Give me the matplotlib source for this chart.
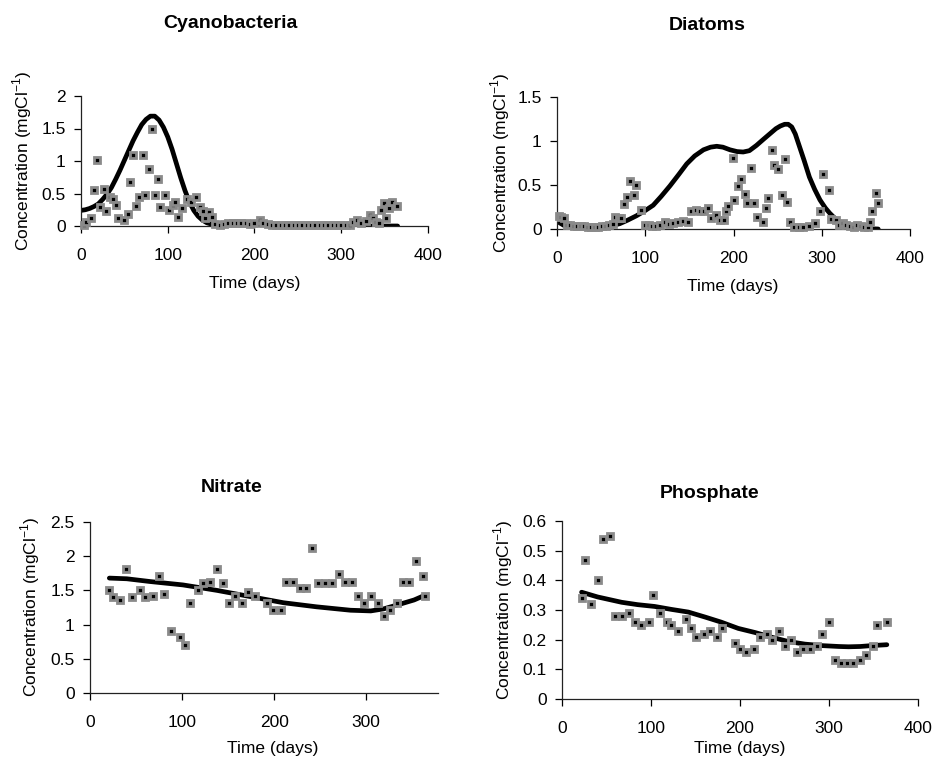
import matplotlib
matplotlib.use("Agg")
import matplotlib.pyplot as plt

plt.rcParams['font.family'] = ['Liberation Sans', 'DejaVu Sans']

# ---- data ----
cyano_days = [3, 6, 12, 15, 18, 22, 26, 29, 34, 37, 40, 43, 49, 54, 57, 60, 63, 67, 71, 74,
              78, 82, 85, 89, 91, 97, 102, 106, 108, 112, 117, 122, 127, 133, 137, 141, 143, 148, 151, 155,
              160, 165, 170, 175, 180, 185, 190, 195, 200, 206, 210, 215, 220, 225, 230, 235, 240, 245, 250, 255,
              260, 265, 270, 275, 280, 285, 290, 295, 300, 305, 310, 314, 318, 323, 329, 333, 337, 340, 343, 346,
              349, 352, 355, 359, 364]
cyano_obs = [0.01, 0.06, 0.13, 0.56, 1.02, 0.30, 0.57, 0.23, 0.45, 0.41, 0.33, 0.13, 0.09, 0.19, 0.68, 1.09, 0.31, 0.45, 1.09, 0.48,
             0.88, 1.49, 0.47, 0.73, 0.29, 0.48, 0.25, 0.32, 0.37, 0.14, 0.28, 0.41, 0.37, 0.44, 0.30, 0.23, 0.13, 0.21, 0.14, 0.03,
             0.02, 0.03, 0.04, 0.05, 0.04, 0.05, 0.04, 0.03, 0.04, 0.10, 0.04, 0.03, 0.02, 0.02, 0.01, 0.01, 0.01, 0.01, 0.01, 0.01,
             0.01, 0.01, 0.01, 0.01, 0.01, 0.01, 0.01, 0.01, 0.02, 0.02, 0.02, 0.06, 0.09, 0.04, 0.07, 0.17, 0.12, 0.06, 0.04, 0.24,
             0.35, 0.13, 0.28, 0.37, 0.31]
cyano_mdays = [0, 5, 10, 15, 20, 25, 30, 35, 40, 45, 50, 55, 60, 65, 70, 75, 80, 85, 90, 95,
               100, 105, 110, 115, 120, 125, 130, 135, 140, 145, 150, 155, 160, 200, 250, 300, 340, 365]
cyano_model = [0.24, 0.25, 0.27, 0.30, 0.34, 0.41, 0.49, 0.59, 0.72, 0.86, 1.01, 1.16, 1.31, 1.44, 1.56, 1.64, 1.69, 1.69, 1.63, 1.52,
               1.37, 1.18, 0.96, 0.74, 0.54, 0.37, 0.24, 0.15, 0.09, 0.05, 0.03, 0.015, 0.01, 0.0, 0.0, 0.0, 0.0, 0.0]

diat_days = [2, 5, 8, 11, 15, 19, 23, 27, 31, 35, 39, 43, 47, 51, 55, 59, 63, 66, 70, 73,
             76, 79, 83, 87, 90, 95, 100, 104, 108, 112, 117, 122, 127, 132, 137, 143, 148, 152, 157, 162,
             167, 171, 175, 180, 185, 189, 192, 194, 199, 201, 205, 208, 213, 215, 220, 223, 227, 233, 237, 239,
             244, 246, 250, 255, 258, 261, 264, 269, 274, 279, 285, 292, 298, 301, 308, 311, 316, 320, 324, 328,
             332, 336, 340, 344, 348, 352, 355, 357, 362, 364]
diat_obs = [0.15, 0.14, 0.13, 0.05, 0.04, 0.03, 0.03, 0.03, 0.03, 0.02, 0.02, 0.02, 0.02, 0.03, 0.03, 0.05, 0.06, 0.14, 0.13, 0.12,
            0.28, 0.36, 0.55, 0.39, 0.50, 0.22, 0.04, 0.04, 0.03, 0.03, 0.05, 0.08, 0.06, 0.07, 0.08, 0.09, 0.08, 0.20, 0.22, 0.21,
            0.20, 0.24, 0.13, 0.16, 0.10, 0.10, 0.21, 0.26, 0.81, 0.33, 0.49, 0.57, 0.40, 0.29, 0.69, 0.30, 0.14, 0.08, 0.24, 0.35,
            0.90, 0.73, 0.68, 0.39, 0.80, 0.31, 0.08, 0.02, 0.02, 0.02, 0.03, 0.07, 0.21, 0.62, 0.44, 0.11, 0.10, 0.05, 0.07, 0.04,
            0.03, 0.02, 0.04, 0.03, 0.02, 0.02, 0.08, 0.20, 0.41, 0.30]
diat_mdays = [0, 3, 8, 14, 22, 33, 42, 52, 62, 71, 80, 90, 100, 109, 118, 128, 138, 147, 156, 166,
              174, 181, 188, 196, 204, 211, 218, 226, 234, 241, 248, 253, 258, 262, 266, 270, 275, 280, 286, 292,
              298, 304, 309, 316, 324, 332, 339, 350, 364]
diat_model = [0.09, 0.07, 0.04, 0.03, 0.025, 0.02, 0.02, 0.03, 0.04, 0.06, 0.10, 0.15, 0.21, 0.27, 0.37, 0.49, 0.62, 0.74, 0.83, 0.90,
              0.93, 0.94, 0.93, 0.90, 0.88, 0.875, 0.89, 0.95, 1.02, 1.08, 1.14, 1.17, 1.19, 1.19, 1.16, 1.08, 0.93, 0.78, 0.59, 0.45,
              0.33, 0.24, 0.18, 0.11, 0.06, 0.03, 0.015, 0.005, 0.0]

nitr_days = [21, 25, 33, 39, 46, 54, 60, 68, 75, 80, 88, 98, 103, 109, 117, 123, 130, 138, 144, 151,
             158, 165, 172, 179, 192, 199, 207, 213, 221, 228, 235, 241, 248, 255, 263, 270, 277, 285, 291, 298,
             305, 313, 319, 326, 333, 340, 347, 354, 362, 364]
nitr_obs = [1.50, 1.41, 1.36, 1.81, 1.41, 1.50, 1.41, 1.42, 1.71, 1.45, 0.91, 0.82, 0.70, 1.31, 1.51, 1.61, 1.63, 1.81, 1.61, 1.31,
            1.42, 1.31, 1.48, 1.42, 1.32, 1.21, 1.21, 1.63, 1.63, 1.53, 1.54, 2.12, 1.61, 1.61, 1.61, 1.74, 1.63, 1.63, 1.42, 1.32,
            1.42, 1.32, 1.12, 1.21, 1.32, 1.63, 1.63, 1.93, 1.71, 1.42]
nitr_mdays = [21, 40, 65, 101, 138, 174, 210, 246, 283, 305, 319, 337, 352, 364]
nitr_model = [1.68, 1.67, 1.63, 1.58, 1.50, 1.41, 1.32, 1.26, 1.21, 1.20, 1.23, 1.30, 1.36, 1.43]

phos_days = [22, 26, 33, 40, 46, 54, 60, 67, 75, 82, 89, 98, 102, 110, 118, 123, 130, 139, 145, 151,
             159, 166, 174, 180, 194, 200, 207, 216, 222, 230, 236, 244, 250, 257, 264, 271, 279, 287, 292, 300,
             307, 313, 320, 327, 335, 342, 349, 354, 365]
phos_obs = [0.34, 0.47, 0.32, 0.40, 0.54, 0.55, 0.28, 0.28, 0.29, 0.26, 0.25, 0.26, 0.35, 0.29, 0.26, 0.25, 0.23, 0.27, 0.24, 0.21,
            0.22, 0.23, 0.21, 0.24, 0.19, 0.17, 0.16, 0.17, 0.21, 0.22, 0.20, 0.23, 0.18, 0.20, 0.16, 0.17, 0.17, 0.18, 0.22, 0.26,
            0.13, 0.12, 0.12, 0.12, 0.13, 0.15, 0.18, 0.25, 0.26]
phos_mdays = [22, 40, 67, 85, 104, 123, 142, 161, 179, 198, 217, 236, 254, 273, 292, 311, 322, 335, 348, 365]
phos_model = [0.36, 0.344, 0.326, 0.318, 0.312, 0.302, 0.293, 0.276, 0.259, 0.238, 0.224, 0.208, 0.194, 0.185, 0.18,
              0.177, 0.176, 0.177, 0.18, 0.183]

W, H = 935, 769
fig = plt.figure(figsize=(W / 100, H / 100), dpi=100)


def rect(x0, x1, ytop, ybot):
    return [x0 / W, 1 - ybot / H, (x1 - x0) / W, (ybot - ytop) / H]


def panel(r, days, obs, mdays, model, xlim, xticks, ylim, yticks):
    ax = fig.add_axes(r)
    ax.plot(mdays, model, color='black', lw=3.4, solid_capstyle='round', solid_joinstyle='round', zorder=2)
    ax.plot(days, obs, ls='none', marker='s', ms=4.6, mfc='black', mec='#8a8a8a', mew=2.0, zorder=3,
            clip_on=False)
    ax.set_xlim(*xlim)
    ax.set_ylim(*ylim)
    ax.set_xticks(xticks)
    ax.set_yticks(yticks)
    ax.set_xticklabels([f"{v:g}" for v in xticks])
    ax.set_yticklabels([f"{v:g}" for v in yticks])
    for s in ('top', 'right'):
        ax.spines[s].set_visible(False)
    for s in ('left', 'bottom'):
        ax.spines[s].set_linewidth(0.9)
        ax.spines[s].set_color('#222222')
    ax.tick_params(axis='x', length=5, width=0.9, pad=11, labelsize=12.5, direction='out')
    ax.tick_params(axis='y', length=5, width=0.9, pad=6, labelsize=12.5, direction='out')
    return ax


ylab = 'Concentration (mgCl$^{\\mathregular{-1}}$)'

panel(rect(81, 428, 96, 226), cyano_days, cyano_obs, cyano_mdays, cyano_model,
      (0, 400), [0, 100, 200, 300, 400], (0, 2), [0, 0.5, 1, 1.5, 2])
panel(rect(557, 910, 97, 229), diat_days, diat_obs, diat_mdays, diat_model,
      (0, 400), [0, 100, 200, 300, 400], (0, 1.5), [0, 0.5, 1, 1.5])
panel(rect(90, 438, 522, 693), nitr_days, nitr_obs, nitr_mdays, nitr_model,
      (0, 378), [0, 100, 200, 300], (0, 2.5), [0, 0.5, 1, 1.5, 2, 2.5])
panel(rect(562, 918, 521, 699), phos_days, phos_obs, phos_mdays, phos_model,
      (0, 400), [0, 100, 200, 300, 400], (0, 0.6), [0, 0.1, 0.2, 0.3, 0.4, 0.5, 0.6])

# titles and axis labels, placed in pixel positions
titles = [("Cyanobacteria", 230, 23), ("Diatoms", 707, 26), ("Nitrate", 232, 487), ("Phosphate", 710, 493)]
for t, x, y in titles:
    fig.text(x / W, 1 - y / H, t, ha='center', va='center', fontsize=14, fontweight='bold')

for x, y in [(22, 161), (500, 163), (30, 607), (503, 610)]:
    fig.text(x / W, 1 - y / H, ylab, rotation=90, ha='center', va='center', fontsize=12.5)

for x, y in [(255, 283), (733, 287), (273, 748), (740, 748)]:
    fig.text(x / W, 1 - y / H, "Time (days)", ha='center', va='center', fontsize=12.5)

fig.savefig("out.png", dpi=100)
